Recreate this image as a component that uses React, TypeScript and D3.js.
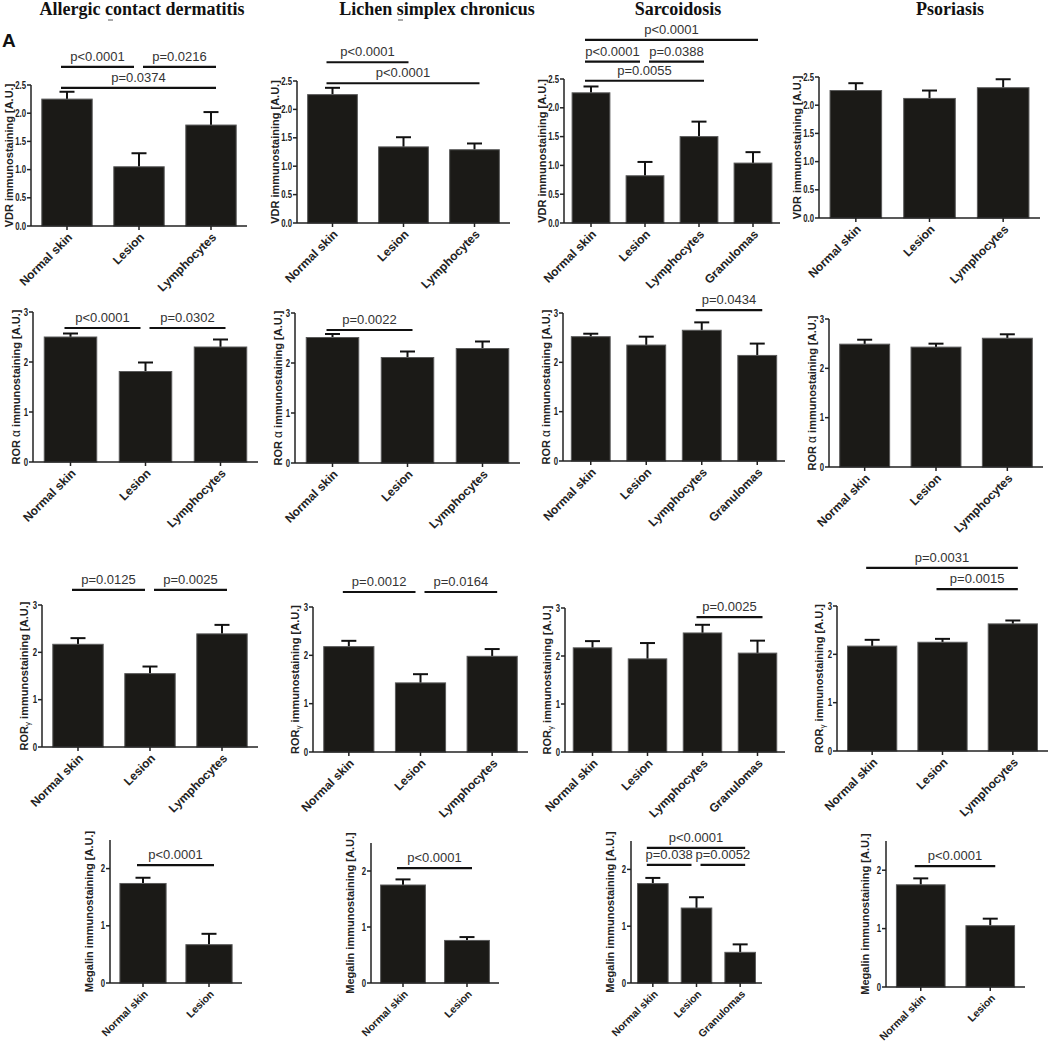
import * as d3 from "d3";

// categories
const cats3 = ["Normal skin", "Lesion", "Lymphocytes"];
const cats4 = ["Normal skin", "Lesion", "Lymphocytes", "Granulomas"];
const cats2 = ["Normal skin", "Lesion"];
const catsMegSarc = ["Normal skin", "Lesion", "Granulomas"];

const diseases = ["Allergic contact dermatitis", "Lichen simplex chronicus", "Sarcoidosis", "Psoriasis"];

// VDR
const vdrAcdMean = [2.25, 1.05, 1.79];
const vdrAcdSem = [0.13, 0.24, 0.23];
const vdrLscMean = [2.26, 1.34, 1.29];
const vdrLscSem = [0.12, 0.17, 0.11];
const vdrSarcMean = [2.26, 0.82, 1.5, 1.04];
const vdrSarcSem = [0.11, 0.24, 0.26, 0.19];
const vdrPsoMean = [2.26, 2.12, 2.31];
const vdrPsoSem = [0.13, 0.14, 0.15];

// ROR alpha
const roraAcdMean = [2.5, 1.81, 2.3];
const roraAcdSem = [0.07, 0.18, 0.15];
const roraLscMean = [2.51, 2.11, 2.29];
const roraLscSem = [0.07, 0.12, 0.14];
const roraSarcMean = [2.52, 2.35, 2.65, 2.14];
const roraSarcSem = [0.06, 0.17, 0.16, 0.24];
const roraPsoMean = [2.49, 2.43, 2.61];
const roraPsoSem = [0.09, 0.07, 0.08];

// ROR gamma
const rorgAcdMean = [2.17, 1.55, 2.39];
const rorgAcdSem = [0.13, 0.15, 0.19];
const rorgLscMean = [2.18, 1.43, 1.98];
const rorgLscSem = [0.12, 0.18, 0.15];
const rorgSarcMean = [2.17, 1.94, 2.48, 2.06];
const rorgSarcSem = [0.14, 0.33, 0.17, 0.26];
const rorgPsoMean = [2.17, 2.25, 2.63];
const rorgPsoSem = [0.13, 0.07, 0.07];

// Megalin
const megAcdMean = [1.74, 0.67];
const megAcdSem = [0.1, 0.19];
const megLscMean = [1.75, 0.76];
const megLscSem = [0.1, 0.06];
const megSarcMean = [1.75, 1.32, 0.54];
const megSarcSem = [0.1, 0.19, 0.14];
const megPsoMean = [1.75, 1.05];
const megPsoSem = [0.11, 0.12];

// significance brackets: [from, to, label, height in value units]
type Br = [number, number, string, number];
const vdrAcdP: Br[] = [[0, 1, "p<0.0001", 2.82], [1, 2, "p=0.0216", 2.82], [0, 2, "p=0.0374", 2.45]];
const vdrLscP: Br[] = [[0, 1, "p<0.0001", 2.83], [0, 2, "p<0.0001", 2.46]];
const vdrSarcP: Br[] = [[0, 3, "p<0.0001", 3.18], [0, 1, "p<0.0001", 2.8], [1, 2, "p=0.0388", 2.8], [0, 2, "p=0.0055", 2.47]];
const vdrPsoP: Br[] = [];
const roraAcdP: Br[] = [[0, 1, "p<0.0001", 2.68], [1, 2, "p=0.0302", 2.68]];
const roraLscP: Br[] = [[0, 1, "p=0.0022", 2.66]];
const roraSarcP: Br[] = [[2, 3, "p=0.0434", 3.06]];
const roraPsoP: Br[] = [];
const rorgAcdP: Br[] = [[0, 1, "p=0.0125", 3.32], [1, 2, "p=0.0025", 3.32]];
const rorgLscP: Br[] = [[0, 1, "p=0.0012", 3.31], [1, 2, "p=0.0164", 3.31]];
const rorgSarcP: Br[] = [[2, 3, "p=0.0025", 2.81]];
const rorgPsoP: Br[] = [[0, 2, "p=0.0031", 3.79], [1, 2, "p=0.0015", 3.35]];
const megAcdP: Br[] = [[0, 1, "p<0.0001", 2.06]];
const megLscP: Br[] = [[0, 1, "p<0.0001", 2.05]];
const megSarcP: Br[] = [[0, 2, "p<0.0001", 2.38], [0, 1, "p=0.038", 2.08], [1, 2, "p=0.0052", 2.08]];
const megPsoP: Br[] = [[0, 1, "p<0.0001", 2.07]];

const SANS = "'Liberation Sans', Arial, sans-serif";
const SERIF = "'Liberation Serif', 'Times New Roman', serif";

type Box = { x0: number; x1: number; y0: number; yTop: number };

const vdrBoxes: Box[] = [
  { x0: 31, x1: 247, y0: 226, yTop: 85 },
  { x0: 297, x1: 510, y0: 223, yTop: 81 },
  { x0: 564, x1: 780, y0: 223, yTop: 79 },
  { x0: 819, x1: 1040, y0: 218, yTop: 77 },
];
const roraBoxes: Box[] = [
  { x0: 33, x1: 258, y0: 462, yTop: 312 },
  { x0: 295, x1: 520, y0: 463, yTop: 313 },
  { x0: 563, x1: 785, y0: 461, yTop: 313 },
  { x0: 829, x1: 1043, y0: 467, yTop: 319 },
];
const rorgBoxes: Box[] = [
  { x0: 42, x1: 258, y0: 747, yTop: 605 },
  { x0: 313, x1: 528, y0: 752, yTop: 607 },
  { x0: 565, x1: 785, y0: 752, yTop: 608 },
  { x0: 837, x1: 1048, y0: 751, yTop: 606 },
];
const megBoxes: Box[] = [
  { x0: 110, x1: 242, y0: 983, yTop: 840 },
  { x0: 371, x1: 499, y0: 983, yTop: 843 },
  { x0: 631, x1: 762, y0: 983, yTop: 841 },
  { x0: 886, x1: 1025, y0: 987, yTop: 841 },
];
const titleX = [142, 437, 678, 950];

type PanelProps = {
  box: Box;
  max: number;
  ticks: number[];
  fmt: string;
  label: any;
  labelOff: number;
  catSize: number;
  cats: string[];
  mean: number[];
  sem: number[];
  brackets: Br[];
};

function Panel({ box, max, ticks, fmt, label, labelOff, catSize, cats, mean, sem, brackets }: PanelProps) {
  const x = d3.scaleBand<string>().domain(cats).range([box.x0, box.x1]).paddingInner(0.3).paddingOuter(0.15);
  const y = d3.scaleLinear().domain([0, max]).range([box.y0, box.yTop]);
  const f = d3.format(fmt);
  const cx = (i: number) => (x(cats[i]) as number) + x.bandwidth() / 2;

  const lines = brackets.map(([a, b, t, v]) => ({ a, b, t, v, l: cx(a) - 6, r: cx(b) + 5 }));
  lines.forEach((p) => {
    lines.forEach((q) => {
      if (p !== q && p.v === q.v && p.b === q.a) {
        p.r = cx(p.b) - 5;
        q.l = cx(q.a) + 4;
      }
    });
  });

  return (
    <g>
      {cats.map((c, i) => (
        <g key={c}>
          <line x1={cx(i)} x2={cx(i)} y1={y(mean[i])} y2={y(mean[i] + sem[i])} stroke="#111" strokeWidth={2} />
          <line x1={cx(i) - 7.5} x2={cx(i) + 7.5} y1={y(mean[i] + sem[i])} y2={y(mean[i] + sem[i])} stroke="#111" strokeWidth={2} />
          <rect
            x={x(c)}
            y={y(mean[i])}
            width={x.bandwidth()}
            height={box.y0 - y(mean[i])}
            fill="#1b1a17"
            stroke="#5a5a5a"
            strokeWidth={1}
          />
        </g>
      ))}
      <line x1={box.x0} x2={box.x0} y1={box.y0} y2={box.yTop} stroke="#222" strokeWidth={1.5} />
      <line x1={box.x0} x2={box.x1} y1={box.y0} y2={box.y0} stroke="#222" strokeWidth={1.5} />
      {ticks.map((t) => (
        <g key={t}>
          <line x1={box.x0 - 4} x2={box.x0} y1={y(t)} y2={y(t)} stroke="#222" strokeWidth={1.5} />
          <text
            transform={`translate(${box.x0 - 5},${y(t)}) scale(0.78,1)`}
            dy="0.35em"
            textAnchor="end"
            fontFamily={SANS}
            fontWeight="bold"
            fontSize={10}
            fill="#222"
          >
            {f(t)}
          </text>
        </g>
      ))}
      {cats.map((c, i) => (
        <g key={"t" + c}>
          <line x1={cx(i)} x2={cx(i)} y1={box.y0} y2={box.y0 + 4} stroke="#222" strokeWidth={1.5} />
          <text
            transform={`translate(${cx(i) + 3},${box.y0 + 9}) rotate(-45)`}
            dy="0.35em"
            textAnchor="end"
            fontFamily={SANS}
            fontWeight="bold"
            fontSize={catSize}
            fill="#222"
          >
            {c}
          </text>
        </g>
      ))}
      <text
        transform={`translate(${box.x0 - labelOff},${(box.y0 + box.yTop) / 2}) rotate(-90)`}
        dy="0.35em"
        textAnchor="middle"
        fontFamily={SANS}
        fontWeight="bold"
        fontSize={11}
        fill="#222"
      >
        {label}
      </text>
      {lines.map((p, k) => (
        <g key={"b" + k}>
          <line x1={p.l} x2={p.r} y1={y(p.v)} y2={y(p.v)} stroke="#111" strokeWidth={2.2} />
          <text x={(p.l + p.r) / 2} y={y(p.v) - 6} textAnchor="middle" fontFamily={SANS} fontSize={13} fill="#333">
            {p.t}
          </text>
        </g>
      ))}
    </g>
  );
}

const vdrLabel = "VDR immunostaining [A.U.]";
const roraLabel = (
  <>
    {"ROR "}
    <tspan fontWeight="normal" fontSize={12}>α</tspan>
    {" immunostaining [A.U.]"}
  </>
);
const rorgLabel = (
  <>
    {"ROR"}
    <tspan fontWeight="normal" fontSize={8} dy="2">γ</tspan>
    <tspan dy="-2">{" immunostaining [A.U.]"}</tspan>
  </>
);
const megLabel = "Megalin immunostaining [A.U.]";

const vdrTicks = [0, 0.5, 1, 1.5, 2, 2.5];
const rorTicks = [0, 1, 2, 3];
const megTicks = [0, 1, 2];

type Row = [string[], number[], number[], Br[]][];

export default function App() {
  const vdr = [
    [cats3, vdrAcdMean, vdrAcdSem, vdrAcdP],
    [cats3, vdrLscMean, vdrLscSem, vdrLscP],
    [cats4, vdrSarcMean, vdrSarcSem, vdrSarcP],
    [cats3, vdrPsoMean, vdrPsoSem, vdrPsoP],
  ] as Row;
  const rora = [
    [cats3, roraAcdMean, roraAcdSem, roraAcdP],
    [cats3, roraLscMean, roraLscSem, roraLscP],
    [cats4, roraSarcMean, roraSarcSem, roraSarcP],
    [cats3, roraPsoMean, roraPsoSem, roraPsoP],
  ] as Row;
  const rorg = [
    [cats3, rorgAcdMean, rorgAcdSem, rorgAcdP],
    [cats3, rorgLscMean, rorgLscSem, rorgLscP],
    [cats4, rorgSarcMean, rorgSarcSem, rorgSarcP],
    [cats3, rorgPsoMean, rorgPsoSem, rorgPsoP],
  ] as Row;
  const meg = [
    [cats2, megAcdMean, megAcdSem, megAcdP],
    [cats2, megLscMean, megLscSem, megLscP],
    [catsMegSarc, megSarcMean, megSarcSem, megSarcP],
    [cats2, megPsoMean, megPsoSem, megPsoP],
  ] as Row;

  return (
    <svg width={1050} height={1045} style={{ position: "absolute", left: 0, top: 0, background: "#fff" }}>
      {diseases.map((d, i) => (
        <text key={d} x={titleX[i]} y={15} textAnchor="middle" fontFamily={SERIF} fontWeight="bold" fontSize={18} fill="#111">
          {d}
        </text>
      ))}
      {/* small stray marks under the first two titles */}
      <line x1={108} x2={113} y1={20} y2={20} stroke="#555" strokeWidth={1} />
      <line x1={398} x2={403} y1={20} y2={20} stroke="#555" strokeWidth={1} />
      <text x={2} y={47} fontFamily={SANS} fontWeight="bold" fontSize={19} fill="#111">
        A
      </text>
      {vdr.map(([c, m, s, b], i) => (
        <Panel key={"v" + i} box={vdrBoxes[i]} max={2.5} ticks={vdrTicks} fmt=".1f" label={vdrLabel} labelOff={22} catSize={12} cats={c} mean={m} sem={s} brackets={b} />
      ))}
      {rora.map(([c, m, s, b], i) => (
        <Panel key={"a" + i} box={roraBoxes[i]} max={3} ticks={rorTicks} fmt="d" label={roraLabel} labelOff={17} catSize={12} cats={c} mean={m} sem={s} brackets={b} />
      ))}
      {rorg.map(([c, m, s, b], i) => (
        <Panel key={"g" + i} box={rorgBoxes[i]} max={3} ticks={rorTicks} fmt="d" label={rorgLabel} labelOff={18} catSize={12} cats={c} mean={m} sem={s} brackets={b} />
      ))}
      {meg.map(([c, m, s, b], i) => (
        <Panel key={"m" + i} box={megBoxes[i]} max={2.5} ticks={megTicks} fmt="d" label={megLabel} labelOff={21} catSize={10.5} cats={c} mean={m} sem={s} brackets={b} />
      ))}
    </svg>
  );
}
